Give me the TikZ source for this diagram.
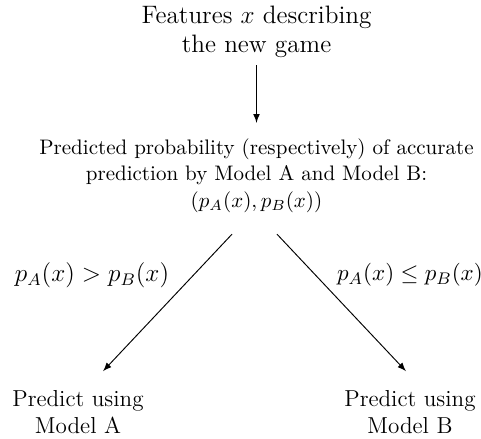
\documentclass[tikz,border=0pt]{standalone}
\usetikzlibrary{calc,arrows.meta}
\begin{document}
\begin{tikzpicture}[x=0.476pt,y=-0.476pt,
  arr/.style={-latex, line width=0.45pt},
  bigtext/.style={align=center, font=\large},
  endtext/.style={align=center, font=\fontsize{11}{12.6}\selectfont},
  midtext/.style={align=center, font=\normalsize},
  lbl/.style={font=\large}]
\useasboundingbox (0,0) rectangle (481,439);
\node[bigtext] (top) at (256.5,32) {Features $x$ describing\\the new game};
\node[midtext] (mid) at (256.5,176) {Predicted probability (respectively) of accurate\\prediction by Model A and Model B:\\[1pt]$(p_A(x),p_B(x))$};
\node[endtext] (A) at (78,412) {Predict using\\Model A};
\node[endtext] (B) at (410,412) {Predict using\\Model B};
\node[lbl] (la) at (92,275) {$p_A(x) > p_B(x)$};
\node[font=\fontsize{11}{13}\selectfont] (lb) at (410,275) {$p_A(x) \le p_B(x)$};
\draw[arr] (top.south) -- ($(mid.north)+(0,-9)$);
\draw[arr] ($(mid.south)+(-24.5,14)$) -- ($(A.north)+(25,-12)$);
\draw[arr] ($(mid.south)+(20.5,14)$) -- ($(B.north)+(-4,-12)$);
\end{tikzpicture}
\end{document}
